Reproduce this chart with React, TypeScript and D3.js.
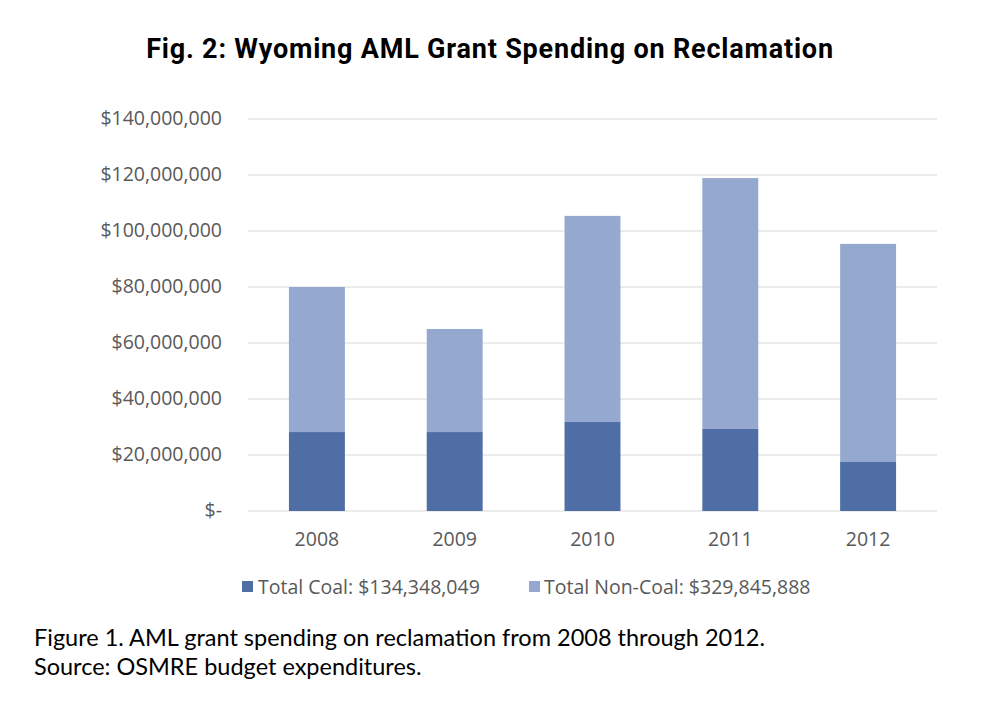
import React from 'react';
import * as d3 from 'd3';

const years = ['2008', '2009', '2010', '2011', '2012'];
const coal = [28200000, 28200000, 31800000, 29300000, 17500000];
const nonCoal = [51800000, 36800000, 73600000, 89600000, 77900000];
const yTicks = [0, 20000000, 40000000, 60000000, 80000000, 100000000, 120000000, 140000000];

const COAL = '#4e6ea5';
const NONCOAL = '#95a9d0';

export default function App() {
  const width = 982, height = 710;
  const x = d3.scaleBand().domain(years).range([248, 937]).paddingInner(0.594).paddingOuter(0.297);
  const y = d3.scaleLinear().domain([0, 140000000]).range([511, 119]);
  const fmt = (v: number) => (v === 0 ? '$-' : '$' + d3.format(',')(v));
  const font = 'Open Sans, sans-serif';

  return (
    <svg width={width} height={height} style={{ position: 'absolute', left: 0, top: 0, background: '#fff' }}>
      <text x={490} y={58} textAnchor="middle" fontFamily="Roboto, sans-serif" fontWeight="bold" fontSize={27} letterSpacing={0.8} fill="#000">
        Fig. 2: Wyoming AML Grant Spending on Reclamation
      </text>
      {yTicks.map(t => (
        <g key={t}>
          <line x1={248} x2={937} y1={y(t)} y2={y(t)} stroke="#d9d9d9" strokeWidth={1} />
          <text x={222} y={y(t) + 6} textAnchor="end" fontFamily={font} fontSize={19.5} fill="#595959">{fmt(t)}</text>
        </g>
      ))}
      {years.map((yr, i) => (
        <g key={yr}>
          <rect x={x(yr)} width={x.bandwidth()} y={y(coal[i])} height={y(0) - y(coal[i])} fill={COAL} />
          <rect x={x(yr)} width={x.bandwidth()} y={y(coal[i] + nonCoal[i])} height={y(coal[i]) - y(coal[i] + nonCoal[i])} fill={NONCOAL} />
          <text x={x(yr)! + x.bandwidth() / 2} y={546} textAnchor="middle" fontFamily={font} fontSize={19.5} fill="#595959">{yr}</text>
        </g>
      ))}
      <rect x={242} y={581} width={11} height={11} fill={COAL} />
      <text x={258} y={594} fontFamily={font} fontSize={19.5} fill="#595959">Total Coal: $134,348,049</text>
      <rect x={529} y={581} width={11} height={11} fill={NONCOAL} />
      <text x={544} y={594} fontFamily={font} fontSize={19.5} fill="#595959">Total Non-Coal: $329,845,888</text>
      <text x={34} y={646} fontFamily="Lato, sans-serif" fontSize={23.5} fill="#000">Figure 1. AML grant spending on reclamation from 2008 through 2012.</text>
      <text x={34} y={675} fontFamily="Lato, sans-serif" fontSize={23.5} fill="#000">Source: OSMRE budget expenditures.</text>
    </svg>
  );
}
